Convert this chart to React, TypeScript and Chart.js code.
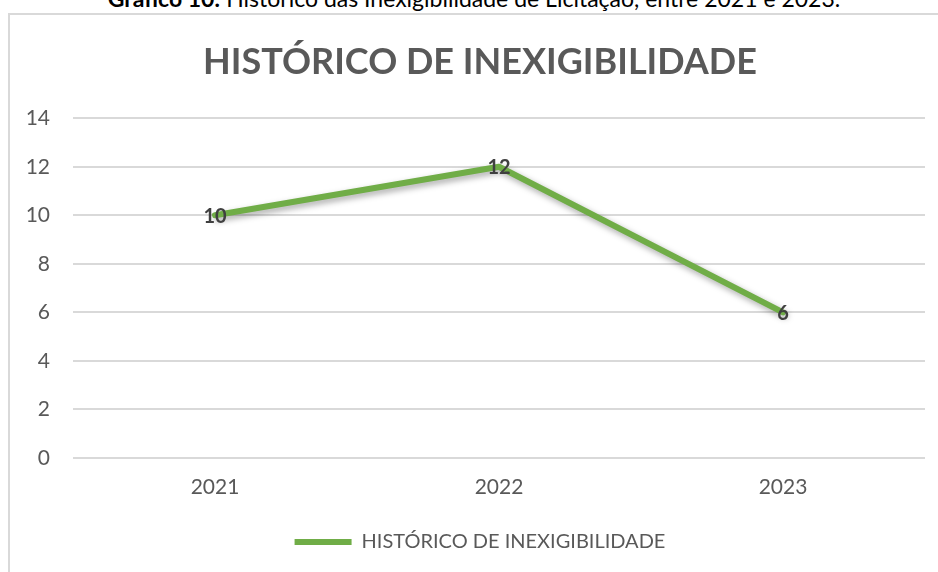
import React, { useEffect, useRef } from "react";
import { Chart, registerables } from "chart.js";

Chart.register(...registerables);

const categories = ["2021", "2022", "2023"];
const seriesName = "HISTÓRICO DE INEXIGIBILIDADE";
const seriesValues = [10, 12, 6];
const yTicks = [0, 2, 4, 6, 8, 10, 12, 14];
const chartTitle = "HISTÓRICO DE INEXIGIBILIDADE";
const captionBold = "Gráfico 10:";
const captionText = " Histórico das Inexigibilidade de Licitação, entre 2021 e 2023.";

const FONT = "Lato, 'Open Sans', sans-serif";

const shadowPlugin = {
  id: "lineShadow",
  beforeDatasetsDraw(chart: any) {
    const ctx = chart.ctx;
    ctx.save();
    ctx.shadowColor = "rgba(0,0,0,0.35)";
    ctx.shadowBlur = 6;
    ctx.shadowOffsetX = 2;
    ctx.shadowOffsetY = 3;
  },
  afterDatasetsDraw(chart: any) {
    chart.ctx.restore();
  },
};

const labelPlugin = {
  id: "dataLabels",
  afterDraw(chart: any) {
    const ctx = chart.ctx;
    const meta = chart.getDatasetMeta(0);
    const data = chart.data.datasets[0].data;
    ctx.save();
    ctx.font = `bold 20px ${FONT}`;
    ctx.fillStyle = "#404040";
    ctx.textAlign = "center";
    ctx.textBaseline = "middle";
    meta.data.forEach((pt: any, i: number) => {
      ctx.fillText(String(data[i]), pt.x, pt.y + 1);
    });
    ctx.restore();
  },
};

export default function App() {
  const ref = useRef<HTMLCanvasElement>(null);

  useEffect(() => {
    if (!ref.current) return;
    const chart = new Chart(ref.current, {
      type: "line",
      data: {
        labels: categories,
        datasets: [
          {
            label: seriesName,
            data: seriesValues,
            borderColor: "#70AD47",
            backgroundColor: "#70AD47",
            borderWidth: 6,
            pointRadius: 0,
            tension: 0,
            borderCapStyle: "round",
            borderJoinStyle: "round",
            yAxisID: "y",
          },
        ],
      },
      options: {
        animation: false,
        responsive: false,
        maintainAspectRatio: false,
        layout: { padding: { left: 0, right: 0, top: 0, bottom: 10 } },
        plugins: {
          tooltip: { enabled: false },
          title: {
            display: true,
            text: chartTitle,
            color: "#595959",
            font: { family: FONT, size: 36, weight: "bold" },
            padding: { top: 26, bottom: 34 },
          },
          legend: {
            position: "bottom",
            labels: {
              color: "#595959",
              font: { family: FONT, size: 20 },
              boxWidth: 57,
              boxHeight: 6,
              padding: 10,
              generateLabels: () => [
                {
                  text: seriesName,
                  fillStyle: "#70AD47",
                  strokeStyle: "#70AD47",
                  lineWidth: 0,
                  hidden: false,
                  datasetIndex: 0,
                  fontColor: "#595959",
                } as any,
              ],
            },
          },
        },
        scales: {
          x: {
            offset: true,
            grid: { display: false, drawTicks: false },
            border: { display: false },
            ticks: {
              color: "#595959",
              font: { family: FONT, size: 21 },
              padding: 17,
            },
            afterFit(scale: any) {
              scale.height = 64;
            },
          },
          y: {
            min: 0,
            max: 14,
            afterBuildTicks(scale: any) {
              scale.ticks = yTicks.map((v) => ({ value: v }));
            },
            grid: { color: "#d9d9d9", lineWidth: 2, drawTicks: false },
            border: { display: false },
            ticks: {
              color: "#595959",
              font: { family: FONT, size: 21 },
              padding: 23,
            },
            afterFit(scale: any) {
              scale.width = 63;
            },
          },
          yRight: {
            position: "right",
            display: true,
            min: 0,
            max: 14,
            grid: { display: false, drawTicks: false },
            border: { display: false },
            ticks: { display: false },
            afterFit(scale: any) {
              scale.width = 25;
            },
          },
        },
      },
      plugins: [shadowPlugin, labelPlugin],
    } as any);
    return () => chart.destroy();
  }, []);

  return (
    <div
      style={{
        position: "fixed",
        left: 0,
        top: 0,
        width: 938,
        height: 572,
        overflow: "hidden",
        background: "#ffffff",
      }}
    >
      <div
        style={{
          position: "absolute",
          left: 0,
          top: -16,
          width: 948,
          textAlign: "center",
          fontFamily: FONT,
          fontSize: 23,
          lineHeight: "28px",
          color: "#000000",
          whiteSpace: "nowrap",
        }}
      >
        <b>{captionBold}</b>
        {captionText}
      </div>
      <div
        style={{
          position: "absolute",
          left: 8,
          top: 13,
          width: 960,
          height: 600,
          borderLeft: "2px solid #d9d9d9",
          borderTop: "2px solid #d9d9d9",
        }}
      />
      <canvas
        ref={ref}
        width={940}
        height={557}
        style={{ position: "absolute", left: 10, top: 15, width: 940, height: 557 }}
      />
    </div>
  );
}
